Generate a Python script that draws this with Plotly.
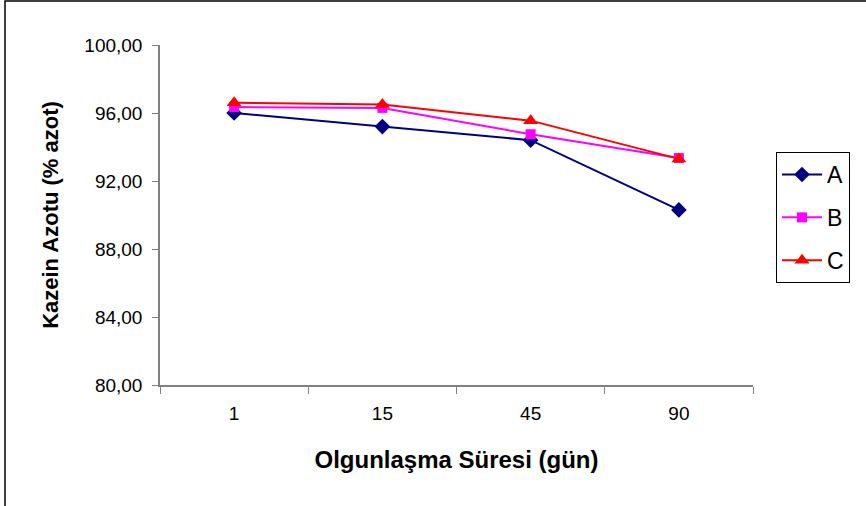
import plotly.graph_objects as go

# Ripening time (days) and casein nitrogen (% of total N) for three cheese groups
days = ["1", "15", "45", "90"]
group_a = [96.0, 95.2, 94.4, 90.3]
group_b = [96.35, 96.3, 94.75, 93.35]
group_c = [96.6, 96.5, 95.55, 93.3]

y_ticks = [80, 84, 88, 92, 96, 100]

W, H = 866, 506
L, R, T, B = 160, 113, 45, 121
pw, ph = W - L - R, H - T - B

fig = go.Figure()
series = [
    ("A", group_a, "#000080", "diamond", 12),
    ("B", group_b, "#FF00FF", "square", 10),
    ("C", group_c, "#FF0000", "triangle-up", 13),
]
for name, vals, color, sym, size in series:
    fig.add_trace(go.Scatter(
        x=days, y=vals, name=name, mode="lines+markers", legendgroup=name,
        line=dict(color=color, width=2),
        marker=dict(symbol=sym, size=size, color=color),
    ))

def px_x(px):
    return (px - L) / pw

def px_y(py):
    return 1 - (py - T) / ph

# outer chart frame (extends past the right and bottom edges)
fig.add_shape(type="rect", xref="paper", yref="paper",
              x0=px_x(5), x1=px_x(W + 20), y0=px_y(H + 20), y1=px_y(1),
              line=dict(color="black", width=1.5), fillcolor="rgba(0,0,0,0)",
              layer="below")

fig.update_layout(
    width=W, height=H,
    margin=dict(l=L, r=R, t=T, b=B, pad=0),
    paper_bgcolor="white", plot_bgcolor="white",
    separators=",.",
    font=dict(family="Liberation Sans, Arial, sans-serif", size=19, color="black"),
    showlegend=True,
    legend=dict(
        x=px_x(776), y=px_y(152), xanchor="left", yanchor="top",
        bordercolor="black", borderwidth=1, bgcolor="white",
        font=dict(size=23), itemwidth=40, tracegroupgap=10,
        entrywidth=100, entrywidthmode="pixels",
    ),
    xaxis=dict(
        type="category", categoryorder="array", categoryarray=days,
        range=[-0.5, 3.5], tickson="boundaries",
        showline=True, linecolor="#808080", linewidth=1.5,
        ticks="outside", ticklen=7, tickcolor="#808080", tickwidth=1.2,
        showgrid=False, zeroline=False,
        tickfont=dict(size=19), ticklabelstandoff=10,
        title=dict(text="<b>Olgunlaşma Süresi (gün)</b>", font=dict(size=24), standoff=29),
    ),
    yaxis=dict(
        range=[80, 100], tickvals=y_ticks, tickformat=".2f",
        showline=True, linecolor="#808080", linewidth=1.5,
        ticks="outside", ticklen=6, tickcolor="#808080", tickwidth=1.2,
        showgrid=False, zeroline=False,
        tickfont=dict(size=19), ticklabelstandoff=6,
        title=dict(text="<b>Kazein Azotu (% azot)</b>", font=dict(size=22), standoff=20),
    ),
)

fig.write_html("out.html")
